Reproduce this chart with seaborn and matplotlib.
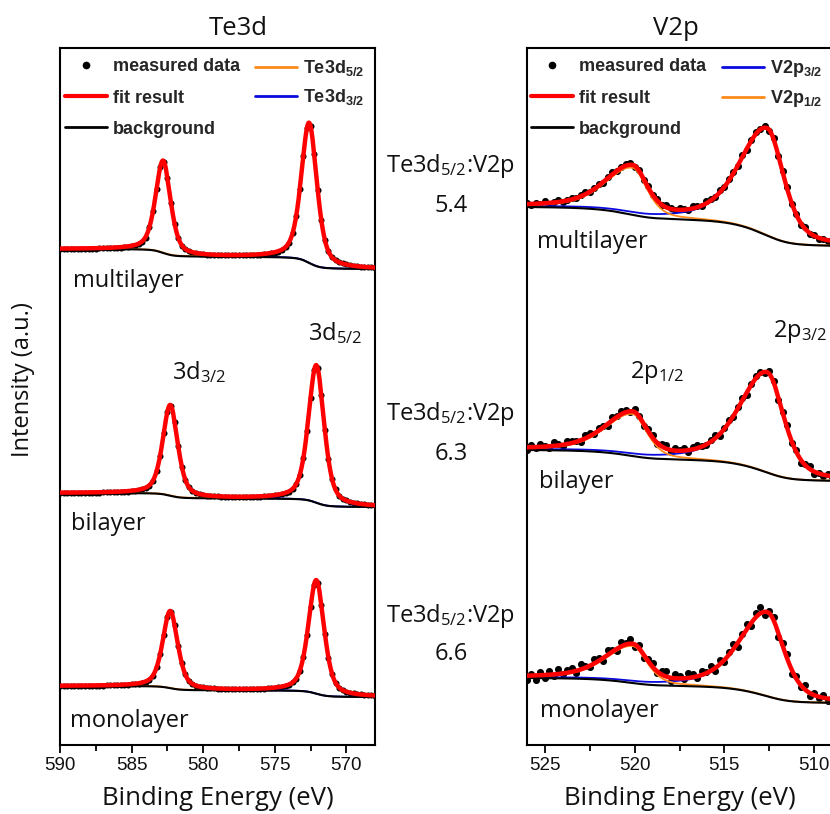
import numpy as np
import matplotlib
matplotlib.use("Agg")
import matplotlib.pyplot as plt
import seaborn as sns
from matplotlib.lines import Line2D
from matplotlib.ticker import MultipleLocator

# ---------------- data ----------------
layers = ["multilayer", "bilayer", "monolayer"]
ratio_values = ["5.4", "6.3", "6.6"]

# Te3d measured data (590 eV -> 568 eV, 0.25 eV step)
te_start, te_step = 590.0, 0.25
te_multi = [496.3, 496.3, 496.3, 496.3, 496.3, 496.3, 496.3, 496.4, 496.4, 496.5,
            496.5, 496.6, 496.7, 496.7, 496.8, 497.0, 497.2, 497.4, 497.7, 498.2,
            498.7, 499.5, 500.9, 503.3, 507.5, 517.7, 533.7, 556.0, 577.7, 583.4,
            567.1, 542.2, 520.9, 507.3, 499.5, 495.6, 493.6, 492.5, 491.6, 491.1,
            490.7, 490.4, 490.2, 490.1, 489.9, 489.8, 489.8, 489.7, 489.6, 489.7,
            489.7, 489.7, 489.8, 489.9, 490.0, 490.3, 490.5, 490.7, 491.2, 491.7,
            492.5, 493.5, 495.0, 497.7, 502.3, 512.1, 529.2, 556.0, 589.4, 617.2,
            618.6, 591.1, 555.2, 525.0, 505.3, 494.2, 487.9, 484.7, 482.9, 481.6,
            480.6, 480.0, 479.3, 478.9, 478.5, 478.2, 477.9, 477.7, 477.5]
te_bi = [252.3, 252.3, 252.3, 252.3, 252.4, 252.3, 252.4, 252.4, 252.4, 252.5,
         252.5, 252.5, 252.6, 252.7, 252.8, 252.8, 252.9, 253.1, 253.4, 253.5,
         253.9, 254.4, 254.9, 255.7, 257.1, 259.5, 263.7, 273.7, 289.5, 311.6,
         333.2, 339.1, 323.4, 299.2, 278.5, 265.2, 257.6, 253.8, 251.8, 250.7,
         249.9, 249.4, 249.0, 248.7, 248.6, 248.5, 248.3, 248.2, 248.2, 248.1,
         248.0, 248.1, 248.1, 248.2, 248.3, 248.4, 248.5, 248.7, 249.0, 249.2,
         249.7, 250.2, 251.0, 252.0, 253.5, 256.2, 260.8, 270.5, 287.4, 313.9,
         347.0, 374.7, 376.7, 350.1, 315.2, 285.7, 266.4, 255.6, 249.5, 246.4,
         244.6, 243.3, 242.4, 241.8, 241.1, 240.8, 240.4, 240.1, 239.8]
te_mono = [59.2, 59.2, 59.3, 59.3, 59.3, 59.3, 59.3, 59.3, 59.4, 59.4,
           59.4, 59.5, 59.5, 59.6, 59.7, 59.7, 59.8, 60.0, 60.2, 60.3,
           60.6, 61.1, 61.5, 62.2, 63.4, 65.4, 69.0, 77.6, 91.0, 109.9,
           128.2, 133.4, 120.1, 99.5, 81.9, 70.6, 64.1, 60.9, 59.2, 58.3,
           57.6, 57.1, 56.8, 56.6, 56.4, 56.4, 56.2, 56.1, 56.1, 56.1,
           56.0, 56.0, 56.0, 56.1, 56.1, 56.2, 56.3, 56.5, 56.7, 56.9,
           57.3, 57.7, 58.4, 59.3, 60.5, 62.7, 66.5, 74.5, 88.4, 110.3,
           137.6, 160.5, 162.1, 140.3, 111.5, 87.3, 71.4, 62.5, 57.4, 54.9,
           53.4, 52.4, 51.6, 51.1, 50.6, 50.3, 49.9, 49.7, 49.5]

# V2p measured data (526 eV -> 509 eV, 0.25 eV step)
v_start, v_step = 526.0, 0.25
v_multi = [542.0, 539.7, 541.9, 541.1, 543.9, 541.3, 543.1, 544.6, 542.8, 544.7,
           547.4, 546.7, 549.9, 553.0, 552.6, 556.9, 561.0, 562.1, 568.0, 572.7,
           573.8, 578.3, 581.5, 581.9, 578.5, 575.3, 564.8, 558.9, 549.9, 546.3,
           539.7, 540.0, 537.4, 534.7, 537.0, 535.8, 535.2, 538.8, 539.0, 539.4,
           543.6, 546.1, 547.6, 555.2, 558.3, 566.0, 573.4, 578.7, 590.2, 594.8,
           605.4, 612.9, 616.1, 618.7, 614.0, 607.3, 588.7, 574.0, 557.9, 540.8,
           531.4, 520.4, 517.8, 511.1, 510.1, 506.1, 506.1, 504.1, 502.9]
v_bi = [294.7, 299.9, 297.0, 301.3, 299.5, 296.9, 302.7, 300.6, 299.3, 304.1,
        304.1, 304.4, 302.9, 309.8, 311.7, 310.7, 317.5, 318.8, 319.3, 327.7,
        329.5, 333.7, 334.8, 332.7, 336.0, 329.5, 318.9, 315.9, 310.3, 301.4,
        300.7, 299.8, 293.0, 297.4, 295.3, 297.5, 293.5, 297.6, 300.3, 299.5,
        299.7, 305.5, 309.8, 309.2, 317.5, 325.4, 328.0, 338.4, 347.5, 349.8,
        361.1, 369.4, 373.0, 371.8, 374.1, 364.3, 345.0, 333.1, 319.7, 301.6,
        295.1, 282.3, 280.6, 278.7, 271.3, 272.5, 269.1, 271.2, 267.6]
v_mono = [65.4, 71.5, 64.7, 72.8, 67.1, 74.4, 68.7, 76.1, 70.6, 75.4,
          77.3, 72.4, 80.7, 79.4, 78.5, 85.8, 87.3, 84.2, 95.3, 95.3,
          94.2, 102.7, 101.6, 106.4, 97.8, 99.9, 86.7, 86.1, 82.4, 72.0,
          73.8, 73.7, 64.5, 70.9, 68.8, 66.0, 72.4, 70.9, 66.9, 74.4,
          73.2, 79.5, 74.3, 85.1, 83.5, 93.5, 101.0, 98.3, 111.1, 120.7,
          119.3, 131.7, 137.6, 130.1, 133.7, 128.4, 108.4, 102.1, 91.2, 71.2,
          69.4, 57.8, 60.1, 48.8, 51.8, 47.3, 50.2, 44.4, 46.8]

# Fit parameters (pseudo-Voigt peaks + Shirley background)
te_c32 = [582.8, 582.3, 582.3]
te_c52 = [572.6, 572.1, 572.1]
te_a32 = [92.0, 90.5, 77.0]
te_a52 = [140.0, 137.5, 113.5]
te_w32, te_w52 = 0.62, 0.65
te_bg_hi = [496.0, 252.0, 59.0]
te_bg_lo = [476.0, 238.0, 48.0]

v_c12, v_c32 = 520.1, 512.6
v_a12 = [47.0, 42.0, 37.0]
v_a32 = [107.0, 100.0, 84.0]
v_w_hi, v_w_lo12, v_w_lo32 = 1.8, 0.95, 1.1
v_bg_hi = [538.0, 295.0, 67.0]
v_bg_lo = [499.0, 264.0, 42.0]


def pv(e, c, a, w_hi, w_lo, eta=0.5):
    w = np.where(e >= c, w_hi, w_lo)
    r = (e - c) / w
    return a * (eta / (1 + r ** 2) + (1 - eta) * np.exp(-np.log(2) * r ** 2))


def shirley(peaks, hi, lo):
    cum = np.cumsum(peaks)
    cum = cum - cum[0]
    return lo + (hi - lo) * cum / cum[-1]


# ---------------- style ----------------
sns.set_theme(style="ticks")
plt.rcParams["font.family"] = ["Open Sans", "DejaVu Sans"]
plt.rcParams["mathtext.fontset"] = "custom"
plt.rcParams["mathtext.rm"] = "Open Sans"
plt.rcParams["mathtext.bf"] = "Liberation Sans:bold"
plt.rcParams["mathtext.default"] = "rm"

RED = "#ff0000"
ORANGE = "#ff8a1c"
BLUE = "#0a0ae0"
TXT = 17
INK = "#111111"

W, H = 830, 814
fig = plt.figure(figsize=(W / 100, H / 100), dpi=100)
axL = fig.add_axes([60 / W, (H - 745) / H, 315 / W, 697 / H])
axR = fig.add_axes([527 / W, (H - 745) / H, 305 / W, 697 / H])

# ---------------- Te3d panel ----------------
te_grid = np.linspace(568, 590, 1101)
te_data = [te_multi, te_bi, te_mono]
for i in range(3):
    y = np.array(te_data[i])
    e = te_start - te_step * np.arange(len(y))
    p32 = pv(te_grid, te_c32[i], te_a32[i], te_w32, te_w32)
    p52 = pv(te_grid, te_c52[i], te_a52[i], te_w52, te_w52)
    bg = shirley(p32 + p52, te_bg_hi[i], te_bg_lo[i])
    sns.scatterplot(x=e, y=y, ax=axL, color="black", s=19, linewidth=0, zorder=2)
    sns.lineplot(x=te_grid, y=bg + p52, ax=axL, color=ORANGE, linewidth=1.3, zorder=3)
    sns.lineplot(x=te_grid, y=bg + p32, ax=axL, color=BLUE, linewidth=1.3, zorder=3)
    sns.lineplot(x=te_grid, y=bg, ax=axL, color="black", linewidth=1.5, zorder=3)
    sns.lineplot(x=te_grid, y=bg + p32 + p52, ax=axL, color=RED, linewidth=3.2, zorder=4)

# ---------------- V2p panel ----------------
v_grid = np.linspace(508, 526, 1101)
v_data = [v_multi, v_bi, v_mono]
for i in range(3):
    y = np.array(v_data[i])
    e = v_start - v_step * np.arange(len(y))
    p12 = pv(v_grid, v_c12, v_a12[i], v_w_hi, v_w_lo12)
    p32 = pv(v_grid, v_c32, v_a32[i], v_w_hi, v_w_lo32)
    bg = shirley(p12 + p32, v_bg_hi[i], v_bg_lo[i])
    sns.scatterplot(x=e, y=y, ax=axR, color="black", s=26, linewidth=0, zorder=2)
    sns.lineplot(x=v_grid, y=bg + p32, ax=axR, color=BLUE, linewidth=1.3, zorder=3)
    sns.lineplot(x=v_grid, y=bg + p12, ax=axR, color=ORANGE, linewidth=1.3, zorder=3)
    sns.lineplot(x=v_grid, y=bg, ax=axR, color="black", linewidth=1.5, zorder=3)
    sns.lineplot(x=v_grid, y=bg + p12 + p32, ax=axR, color=RED, linewidth=3.2, zorder=4)

# ---------------- axes cosmetics ----------------
for ax, lim in ((axL, (590, 568)), (axR, (526, 509))):
    ax.set_xlim(*lim)
    ax.set_ylim(0, 697)
    ax.set_yticks([])
    ax.set_ylabel("")
    ax.xaxis.set_major_locator(MultipleLocator(5))
    ax.xaxis.set_minor_locator(MultipleLocator(2.5))
    ax.tick_params(axis="x", which="major", direction="out", length=6, width=1.3,
                   color="black", labelsize=13.5, pad=3,
                   labelfontfamily="Liberation Sans", labelcolor=INK)
    ax.tick_params(axis="x", which="minor", direction="out", length=4, width=1.3,
                   color="black")
    ax.tick_params(axis="y", left=False, right=False)
    for s in ax.spines.values():
        s.set_color("black")
        s.set_linewidth(1.5)
        s.set_visible(True)
    ax.set_xlabel("Binding Energy (eV)", fontsize=18.5, labelpad=8, color=INK)
    ax.set_facecolor("white")

# sample labels
for ax, xs, ys in ((axL, [589.1, 589.2, 589.3], [458, 215, 18]),
                   (axR, [525.45, 525.35, 525.3], [497, 257, 28])):
    for name, x, y in zip(layers, xs, ys):
        ax.text(x, y, name, fontsize=TXT, va="baseline", ha="left", color=INK)

axL.text(582.2, 366, r"3d$_{3/2}$", fontsize=TXT, va="baseline", color=INK)
axL.text(572.7, 405, r"3d$_{5/2}$", fontsize=TXT, va="baseline", color=INK)
axR.text(520.25, 367, r"2p$_{1/2}$", fontsize=TXT, va="baseline", color=INK)
axR.text(512.3, 408, r"2p$_{3/2}$", fontsize=TXT, va="baseline", color=INK)

# legends (two stacked columns, each its own legend)
leg_prop = {"family": "Liberation Sans", "weight": "bold", "size": 13}
leg_kw = dict(loc="upper left", frameon=False, prop=leg_prop, handlelength=2.35,
              handletextpad=0.3, borderpad=0, borderaxespad=0, numpoints=1)


def legend(ax, lab_a, col_a, lab_b, col_b, x1, x2):
    h1 = [Line2D([], [], color="black", marker="o", markersize=4.5, linestyle="none"),
          Line2D([], [], color=RED, linewidth=3),
          Line2D([], [], color="black", linewidth=2)]
    l1 = ["measured data", "fit result", "background"]
    leg1 = ax.legend(h1, l1, bbox_to_anchor=(x1, 0.985), labelspacing=0.78, **leg_kw)
    ax.add_artist(leg1)
    h2 = [Line2D([], [], color=col_a, linewidth=2),
          Line2D([], [], color=col_b, linewidth=2)]
    ax.legend(h2, [lab_a, lab_b], bbox_to_anchor=(x2, 0.985), labelspacing=0.5, **leg_kw)


legend(axL, r"Te3d$_{\mathbf{5/2}}$", ORANGE, r"Te3d$_{\mathbf{3/2}}$", BLUE, 0.016, 0.619)
legend(axR, r"V2p$_{\mathbf{3/2}}$", BLUE, r"V2p$_{\mathbf{1/2}}$", ORANGE, 0.013, 0.639)

# titles, y label, ratio annotations
fig.text(238 / W, 1 - 35 / H, "Te3d", ha="center", va="baseline", fontsize=18.5, color=INK)
fig.text(676 / W, 1 - 35 / H, "V2p", ha="center", va="baseline", fontsize=18.5, color=INK)
fig.text(23 / W, 1 - 380 / H, "Intensity (a.u.)", rotation=90, ha="center", va="center",
         fontsize=17, color=INK)

ratio_y1 = [172, 420, 622]
ratio_y2 = [212, 460, 660]
for val, y1, y2 in zip(ratio_values, ratio_y1, ratio_y2):
    fig.text(451 / W, 1 - y1 / H, r"Te3d$_{5/2}$:V2p", ha="center", va="baseline",
             fontsize=TXT, color=INK)
    fig.text(451 / W, 1 - y2 / H, val, ha="center", va="baseline", fontsize=TXT,
             color=INK)

fig.savefig("out.png", dpi=100, facecolor="white")
